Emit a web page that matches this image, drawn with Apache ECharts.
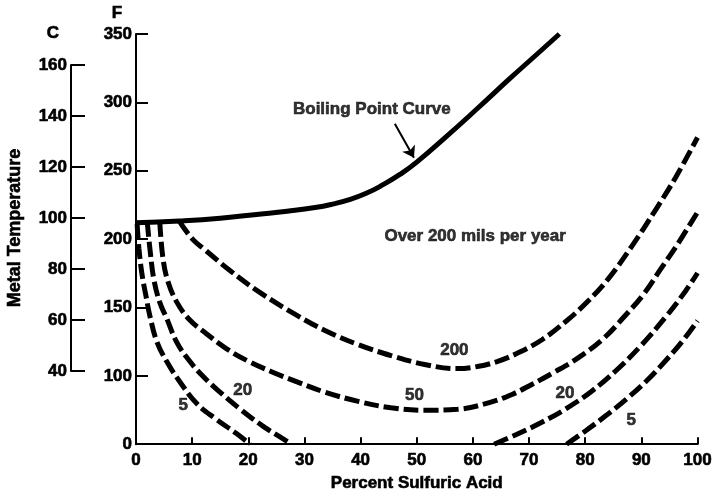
<!DOCTYPE html>
<html><head><meta charset="utf-8">
<script src="https://cdn.jsdelivr.net/npm/echarts@6/dist/echarts.min.js"></script>
<style>html,body{margin:0;padding:0;background:#fff}#c{width:715px;height:497px}</style>
</head><body><div id="c"></div>
<script>
// Percent sulfuric acid (x) vs metal temperature in F (y). Bottom of F axis is a break labelled "0".
const boilingX = [0, 7.8, 15, 21.9, 26.9, 31.9, 35, 38, 41, 44, 47, 50, 55, 60.8, 66.6, 71.4, 75.4];
const boilingY = [212, 213.3, 215.3, 218.2, 220.4, 223.1, 225.6, 228.9, 233.5, 239.8, 247.3, 256.3, 274, 295.5, 317.5, 335.2, 350];

const c5LeftX = [0.2, 0.53, 1.06, 1.77, 2.47, 3.71, 5.48, 7.77, 10.78, 14.31, 17.84, 20.32];
const c5LeftY = [211, 192.7, 174.5, 158.5, 143.9, 125, 110.4, 95.9, 79.9, 68.2, 58, 50];

const c20LeftX = [2, 2.6, 3.2, 4.2, 5.5, 7.2, 9.2, 11.8, 14.8, 18.4, 22.4, 26, 27.7];
const c20LeftY = [212.5, 188.3, 170.1, 154.1, 141.7, 125, 112.6, 100.2, 88.6, 76.2, 63.8, 54.4, 50];

const c50X = [4.24, 4.77, 5.65, 7.24, 9.54, 12.54, 16.08, 20.14, 24.03, 28.45, 33.75, 39.58, 45.41, 51.41, 57.24, 63.07, 66.96, 70.49, 74.38, 78.8, 83.22, 86.93, 90.46, 93.46, 96.47, 100];
const c50Y = [212.5, 186.9, 169.4, 154.1, 141, 130.8, 119.9, 110.4, 103.2, 95.9, 87.9, 81.3, 76.6, 74.8, 75.5, 80.6, 86.4, 93.7, 102.4, 113.3, 127.2, 143.2, 160, 178.2, 196.4, 219.7];

const c200X = [7.77, 10.07, 12.54, 16.61, 21.91, 28.45, 33.75, 39.58, 45.41, 51.41, 57.24, 60.8, 64.3, 67.8, 72.3, 76.7, 80.2, 84.1, 88.2, 92.6, 96.1, 100];
const c200Y = [212.8, 200, 191.3, 177.4, 161.4, 144.7, 133, 122.8, 114.8, 108.3, 105.3, 106.8, 110.4, 116.3, 126.4, 140.3, 153.4, 170.9, 194.2, 221.8, 245.1, 274.3];

const c20RightX = [63.78, 67.84, 72.26, 76.68, 81.1, 85.51, 89.93, 94.35, 97.88, 100];
const c20RightY = [50, 57.3, 66, 76.2, 88.6, 103.9, 122.1, 143.2, 162.1, 175.2];

const c5RightX = [76.68, 80.21, 83.75, 87.28, 90.81, 94.35, 97.53, 100];
const c5RightY = [50, 60.2, 71.1, 82.8, 95.9, 111.2, 126.5, 140.3];

const annoText = ['Boiling Point Curve', 'Over 200 mils per year', '200', '50', '20', '5', '20', '5'];
const annoX = [42, 60.4, 56.7, 49.6, 19, 8.4, 76.4, 88.2];
const annoY = [294.7, 202.2, 118.4, 85.9, 89.5, 78.6, 87.1, 67.7];

const arrowFrom = [46.1, 284.4];
const arrowTo = [49.5, 259.5];

const FONT = '"Liberation Sans", Arial, Helvetica, sans-serif';
const zip = (xs, ys) => xs.map((x, i) => [x, ys[i]]);

const dashed = (name, xs, ys) => ({
  name, type: 'line', data: zip(xs, ys), smooth: 0.4, showSymbol: false, silent: true,
  lineStyle: { color: '#000', width: 5, type: [15, 5], cap: 'butt' }, z: 3
});

const chart = echarts.init(document.getElementById('c'), null, { renderer: 'canvas' });
const axisText = { color: '#000', fontFamily: FONT, fontWeight: 'bold', fontSize: 17, textBorderColor: '#000', textBorderWidth: 0.6 };
const gStyle = (text, size) => ({ text, font: 'bold ' + size + 'px ' + FONT, fill: '#000', stroke: '#000', lineWidth: 0.6, align: 'center', verticalAlign: 'middle', textAlign: 'center', textVerticalAlign: 'middle' });

chart.setOption({
  animation: false,
  backgroundColor: '#fff',
  grid: [
    { left: 136, right: 13, top: 34, bottom: 51 },
    { left: 71, top: 65, height: 306, width: 20 }
  ],
  xAxis: [
    {
      type: 'value', min: 0, max: 100, interval: 10, gridIndex: 0,
      name: 'Percent Sulfuric Acid', nameLocation: 'middle', nameGap: 30,
      nameTextStyle: axisText,
      axisLine: { show: true, lineStyle: { color: '#000', width: 2 } },
      axisTick: { show: true, inside: true, length: 7, lineStyle: { color: '#000', width: 2 } },
      axisLabel: Object.assign({ margin: 8 }, axisText),
      splitLine: { show: false }
    },
    { type: 'value', gridIndex: 1, min: 0, max: 1, show: false }
  ],
  yAxis: [
    {
      type: 'value', min: 50, max: 350, interval: 50, gridIndex: 0,
      axisLine: { show: true, lineStyle: { color: '#000', width: 2 } },
      axisTick: { show: true, inside: true, length: 12, lineStyle: { color: '#000', width: 2 } },
      axisLabel: Object.assign({ margin: 4, formatter: v => (v === 50 ? '0' : String(v)) }, axisText),
      splitLine: { show: false }
    },
    {
      type: 'value', min: 40, max: 160, interval: 20, gridIndex: 1,
      axisLine: { show: true, lineStyle: { color: '#000', width: 2 } },
      axisTick: { show: true, inside: true, length: 14, lineStyle: { color: '#000', width: 2 } },
      axisLabel: Object.assign({ margin: 4 }, axisText),
      splitLine: { show: false }
    }
  ],
  series: [
    {
      name: 'Boiling Point Curve', type: 'line', data: zip(boilingX, boilingY), smooth: 0.5,
      showSymbol: false, silent: true, z: 4,
      lineStyle: { color: '#000', width: 5, type: 'solid' },
      markLine: {
        silent: true, symbol: ['none', 'arrow'], symbolSize: 11, animation: false,
        label: { show: false },
        lineStyle: { color: '#000', width: 2, type: 'solid' },
        data: [[{ coord: arrowFrom }, { coord: arrowTo }]]
      }
    },
    dashed('5 left', c5LeftX, c5LeftY),
    dashed('20 left', c20LeftX, c20LeftY),
    dashed('50', c50X, c50Y),
    dashed('200', c200X, c200Y),
    dashed('20 right', c20RightX, c20RightY),
    dashed('5 right', c5RightX, c5RightY),
    {
      name: 'labels', type: 'scatter', silent: true, z: 5,
      symbolSize: 1, itemStyle: { color: 'rgba(0,0,0,0)' },
      data: annoText.map((t, i) => [annoX[i], annoY[i], t]),
      label: Object.assign({ show: true, position: 'inside', formatter: p => p.value[2] }, axisText)
    },
    { type: 'line', xAxisIndex: 1, yAxisIndex: 1, data: [] }
  ],
  graphic: [
    { type: 'text', x: 117, y: 13, style: gStyle('F', 17) },
    { type: 'text', x: 53, y: 33, style: gStyle('C', 17) },
    { type: 'text', x: 15.5, y: 228, rotation: Math.PI / 2, style: gStyle('Metal Temperature', 18) }
  ]
});
</script>
</body></html>
